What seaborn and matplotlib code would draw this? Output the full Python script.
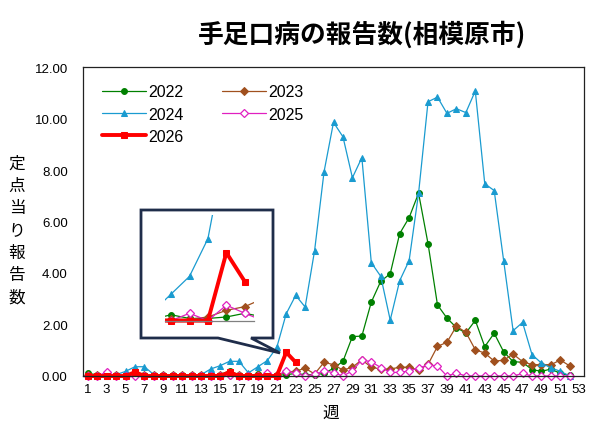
import numpy as np
import pandas as pd
import seaborn as sns
import matplotlib.pyplot as plt
from matplotlib.patches import Polygon

weeks = list(range(1, 53))

v2022 = [0.10, 0.05, 0.02, 0.02, 0.02, 0.03, 0.02, 0.02, 0.02, 0.02, 0.02, 0.02, 0.02,
         0.03, 0.05, 0.20, 0.03, 0.02, 0.08, 0.03, 0.03, 0.05, 0.10, 0.05, 0.05, 0.10,
         0.30, 0.57, 1.53, 1.55, 2.87, 3.68, 3.97, 5.53, 6.15, 7.10, 5.14, 2.76, 2.25,
         1.88, 1.67, 2.16, 1.14, 1.66, 0.94, 0.56, 0.53, 0.25, 0.18, 0.27, 0.10, 0.02]
v2023 = [0.02, 0.02, 0.02, 0.02, 0.02, 0.05, 0.02, 0.02, 0.02, 0.02, 0.02, 0.02, 0.02,
         0.02, 0.02, 0.05, 0.02, 0.02, 0.02, 0.02, 0.05, 0.14, 0.19, 0.30, 0.08, 0.53,
         0.44, 0.23, 0.34, 0.63, 0.34, 0.27, 0.27, 0.34, 0.34, 0.23, 0.45, 1.15, 1.31,
         1.93, 1.70, 1.02, 0.89, 0.58, 0.61, 0.85, 0.56, 0.44, 0.44, 0.44, 0.62, 0.39]
v2024 = [0.05, 0.00, 0.00, 0.05, 0.18, 0.36, 0.36, 0.05, 0.00, 0.00, 0.05, 0.00, 0.05,
         0.27, 0.40, 0.57, 0.57, 0.12, 0.36, 0.60, 1.11, 2.42, 3.13, 2.68, 4.87, 7.93,
         9.85, 9.29, 7.70, 8.48, 4.40, 3.87, 2.17, 3.70, 4.48, 7.10, 10.65, 10.83, 10.20,
         10.38, 10.23, 11.07, 7.47, 7.20, 4.48, 1.76, 2.08, 0.83, 0.50, 0.32, 0.18, 0.00]
v2025 = [0.00, 0.00, 0.15, 0.00, 0.00, 0.00, 0.00, 0.00, 0.00, 0.00, 0.00, 0.00, 0.00,
         0.00, 0.00, 0.05, 0.00, 0.00, 0.00, 0.10, 0.00, 0.21, 0.10, 0.00, 0.06, 0.20,
         0.13, 0.00, 0.20, 0.63, 0.55, 0.33, 0.14, 0.14, 0.20, 0.30, 0.44, 0.39, 0.00,
         0.12, 0.00, 0.00, 0.00, 0.00, 0.00, 0.00, 0.10, 0.00, 0.00, 0.00, 0.00, 0.00]
v2026 = [0.00, 0.00, 0.00, 0.00, 0.00, 0.15, 0.00, 0.00, 0.00, 0.00, 0.00, 0.00, 0.00,
         0.00, 0.00, 0.15, 0.00, 0.00, 0.00, 0.00, 0.00, 0.92, 0.53]

years = ['2022', '2023', '2024', '2025', '2026']
values = [v2022, v2023, v2024, v2025, v2026]

styles = {
    '2022': dict(color='#008000', marker='o', markersize=4.2, linewidth=0.9,
                 markeredgecolor='#008000', markerfacecolor='#008000'),
    '2023': dict(color='#A0501E', marker='D', markersize=3.6, linewidth=0.9,
                 markeredgecolor='#A0501E', markerfacecolor='#A0501E'),
    '2024': dict(color='#1A9BD0', marker='^', markersize=5, linewidth=0.9,
                 markeredgecolor='#1A9BD0', markerfacecolor='#1A9BD0'),
    '2025': dict(color='#E020C0', marker='D', markersize=3.8, linewidth=0.9,
                 markeredgecolor='#E020C0', markerfacecolor='white', markeredgewidth=0.9),
    '2026': dict(color='#FF0000', marker='s', markersize=4.5, linewidth=2.8,
                 markeredgecolor='#FF0000', markerfacecolor='#FF0000'),
}

sns.set_style('white')
plt.rcParams['font.family'] = ['Liberation Sans', 'Noto Sans CJK JP']
plt.rcParams['text.color'] = 'black'
plt.rcParams['xtick.color'] = 'black'
plt.rcParams['ytick.color'] = 'black'

fig = plt.figure(figsize=(5.99, 4.35), dpi=100)
ax = fig.add_axes([83 / 599, 1 - 377 / 435, 501 / 599, 309 / 435])


def draw(a, legend):
    for yr, vals in zip(years, values):
        sns.lineplot(x=weeks[:len(vals)], y=vals, ax=a, label=yr if legend else None,
                     clip_on=False, **styles[yr])


draw(ax, True)

ax.set_xlim(0.5, 53.5)
ax.set_ylim(0, 12)
ax.set_xticks(range(1, 54, 2))
ax.set_xticklabels([str(w) for w in range(1, 54, 2)], fontsize=9.5)
ax.set_yticks(np.arange(0, 12.1, 2))
ax.set_yticklabels([f'{v:.2f}' for v in np.arange(0, 12.1, 2)], fontsize=9.5)
ax.tick_params(axis='both', length=0)
ax.tick_params(axis='y', pad=11)
ax.tick_params(axis='x', pad=5)
for s in ax.spines.values():
    s.set_color('#222222')
    s.set_linewidth(0.9)
ax.set_xlabel('')
ax.set_ylabel('')

h, l = ax.get_legend_handles_labels()
order = [0, 2, 4, 1, 3]
ax.legend([h[i] for i in order], [l[i] for i in order], ncol=2, loc='upper left',
          bbox_to_anchor=(0.01, 0.99), frameon=False, fontsize=11.5, handlelength=2.7,
          columnspacing=2.4, labelspacing=0.45, handletextpad=0.2)

# callout box with zoomed view
px = [(141, 211), (273, 211), (273, 339), (251, 339), (280, 354), (218, 339), (141, 339)]
poly = Polygon([(x / 599, 1 - y / 435) for x, y in px], closed=True, transform=fig.transFigure,
               facecolor='white', edgecolor='#1F2D4A', linewidth=2.0, zorder=5)
fig.patches.append(poly)

ins = fig.add_axes([165 / 599, 1 - 325 / 435, 89 / 599, 109 / 435], zorder=6)
ins.patch.set_alpha(0)
draw(ins, False)
for ln in ins.lines:
    ln.set_clip_on(True)
ins.set_xlim(18.67, 23.5)
ins.set_ylim(-0.045, 1.43)
for k in ['top', 'left', 'right']:
    ins.spines[k].set_visible(False)
ins.spines['bottom'].set_position(('data', 0))
ins.spines['bottom'].set_color('#808080')
ins.spines['bottom'].set_linewidth(0.9)
ins.set_xticks([19, 20, 21, 22, 23])
ins.set_xticklabels([])
ins.set_yticks([])
ins.tick_params(axis='x', length=3, direction='inout', color='#808080', width=0.8)
ins.set_xlabel('')
ins.set_ylabel('')

fig.text(362 / 599, 1 - 35 / 435, '手足口病の報告数(相模原市)', ha='center', va='center',
         fontsize=18.5, fontweight='bold', family=['Noto Sans CJK JP'])
fig.text(17 / 599, 1 - 231 / 435, '\n'.join('定点当り報告数'), ha='center', va='center',
         fontsize=12, linespacing=1.4, family=['Noto Sans CJK JP'])
fig.text(331 / 599, 1 - 413 / 435, '週', ha='center', va='center', fontsize=12,
         family=['Noto Sans CJK JP'])

fig.savefig('out.png', dpi=100)
